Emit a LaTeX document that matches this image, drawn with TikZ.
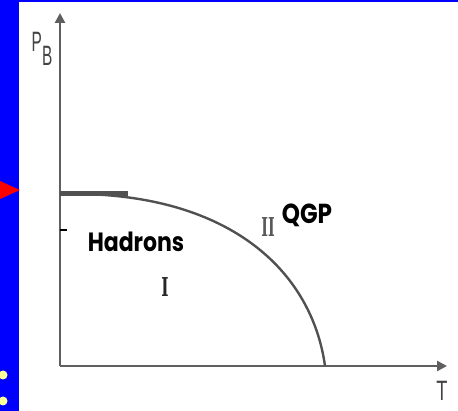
\documentclass[tikz,border=0pt]{standalone}
\usepackage{fontspec}
\setmainfont{Liberation Sans}
\newfontfamily\labfont{Poppins}
\newfontfamily\serifnum{DejaVu Serif}
\usetikzlibrary{arrows.meta}
\definecolor{slideblue}{RGB}{0,0,255}
\definecolor{axisgray}{RGB}{95,95,95}
\definecolor{dotyellow}{RGB}{255,255,153}
\tikzset{
  axisline/.style={draw=axisgray, line width=2.6pt, -{Triangle[length=10pt,width=10pt]}},
  phaseline/.style={draw=axisgray!85!black, line width=2.4pt},
  biglabel/.style={font=\labfont\bfseries\fontsize{22}{24}\selectfont, text=black, inner sep=0pt},
  axlabel/.style={font=\fontsize{28}{30}\selectfont, text=axisgray!70!black, inner sep=0pt},
  romanlabel/.style={font=\serifnum\bfseries\fontsize{26}{28}\selectfont, text=black!85, inner sep=0pt},
}
\begin{document}
\begin{tikzpicture}[x=1pt,y=-1pt]
\useasboundingbox (0,0) rectangle (458,411);
\fill[white] (0,0) rectangle (458,411);
% slide frame
\fill[slideblue] (0,0) rectangle (458,2.5);
\fill[slideblue] (0,0) rectangle (19,411);
\fill[red] (0,181) -- (20,190) -- (0,199) -- cycle;
\fill[dotyellow] (3,375) circle (4.5);
\fill[dotyellow] (3,401) circle (4.5);
% axes
\coordinate (O) at (60,366);
\coordinate (ytop) at (60,13);
\coordinate (xend) at (447,366);
\draw[axisline] (O) -- (ytop);
\draw[axisline] (O) -- (xend);
\coordinate (tickA) at (60,230);
\coordinate (tickB) at (67,230);
\draw[black, line width=1.6pt] (tickA) -- (tickB);
% phase boundary
\coordinate (c0) at (60,194);
\coordinate (c1) at (128,194);
\coordinate (cend) at (325,366);
\draw[phaseline, line width=5pt] (c0) -- (c1);
\draw[phaseline] (c0) .. controls (230,190) and (312,272) .. (cend);
% labels
\node[axlabel] (mu) at (42,49) {\scalebox{0.55}[1]{P\raisebox{-0.5em}{B}}};
\node[axlabel] (T) at (442,391) {\scalebox{0.65}[1]{T}};
\node[biglabel] (hadrons) at (136,242) {\scalebox{1}[1.2]{Hadrons}};
\node[biglabel] (qgp) at (307,215) {\scalebox{1.05}[1.25]{QGP}};
\node[romanlabel] (one) at (165,287) {\scalebox{0.6}[1]{I}};
\node[romanlabel, text=black!65] (two) at (268,227) {\scalebox{0.55}[1]{II}};
\end{tikzpicture}
\end{document}
